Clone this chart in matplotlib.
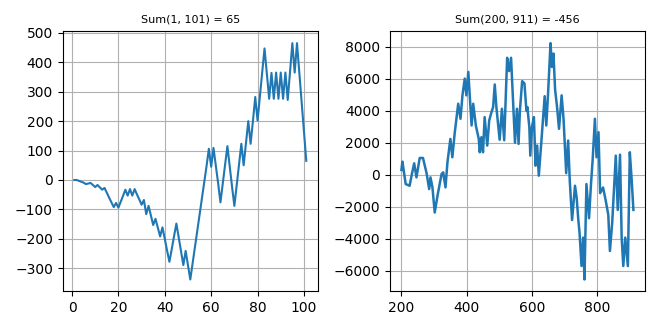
import numpy as np
import matplotlib
matplotlib.use('Agg')
import matplotlib.pyplot as plt

# --- left panel: running sum for n = 1..101 ---
left_n = np.arange(1, 102)
left_sum = [
    0, 0, -3, -6, -9, -14, -12, -10, -17, -24,
    -17, -25, -33, -27, -43, -60, -76, -92, -78, -94,
    -74, -54, -33, -53, -31, -53, -31, -49, -66, -84,
    -68, -116, -88, -120, -153, -132, -162, -192, -161, -200,
    -240, -278, -235, -191, -148, -195, -242, -289, -241, -290,
    -338, -283, -228, -173, -118, -63, -8, 47, 106, 45,
    109, 49, -11, -76, -12, 52, 115, 46, -23, -88,
    -18, 52, 123, 50, 125, 200, 123, 200, 282, 202,
    284, 366, 447, 362, 276, 364, 276, 365, 276, 365,
    276, 365, 272, 368, 465, 365, 465, 365, 265, 165,
    65,
]
left_title = 'Sum(1, 101) = 65'

# --- right panel: running sum for n = 200..911 (vertices) ---
right_n = [
    200, 203, 213, 225, 232, 239, 246, 256, 266, 277,
    285, 289, 295, 302, 311, 323, 328, 335, 341, 350,
    356, 363, 374, 381, 387, 394, 399, 405, 409, 415,
    420, 428, 437, 440, 445, 450, 455, 463, 469, 476,
    481, 486, 491, 501, 508, 515, 524, 530, 536, 548,
    554, 559, 563, 570, 577, 583, 586, 592, 595, 600,
    606, 611, 616, 621, 629, 639, 644, 649, 657, 661,
    666, 671, 677, 683, 691, 697, 705, 711, 716, 723,
    732, 737, 742, 746, 752, 757, 761, 767, 775, 781,
    786, 793, 798, 804, 809, 818, 826, 834, 839, 846,
    851, 857, 863, 870, 875, 880, 886, 894, 900, 906,
    911,
]
right_sum = [
    300, 814, -586, -691, 41, 710, -168, 1044, 1044, 100,
    -900, -168, -795, -2362, -1260, 41, 145, -795, 772, 2235,
    1086, 2549, 4430, 3490, 4953, 5998, 4953, 6416, 5057, 3072,
    4430, 3072, 2235, 1400, 2340, 1400, 3594, 1818, 3385, 3908,
    4221, 5632, 4221, 2180, 4117, 2150, 7300, 6470, 7300, 2000,
    4117, 1922, 3967, 5840, 5700, 4012, 4221, 2967, 1190, 2967,
    3594, 564, 1818, -64, 2100, 4900, 3072, 4900, 8213, 6729,
    7565, 5300, 4221, 2863, 4953, 3440, 93, 2131, -400, -2830,
    -690, -1422, -2780, -3650, -5700, -3930, -6543, -586, -2720, -586,
    900, 3490, 1086, 2654, -1150, -800, -1600, -2500, -4766, -3000,
    -1100, 1190, -2200, 1250, -3930, -5706, -3930, -5706, 1400, -430,
    -2200,
]
right_title = 'Sum(200, 911) = -456'

fig, (ax1, ax2) = plt.subplots(1, 2, figsize=(6.6, 3.3), dpi=100)

ax1.plot(left_n, left_sum, color='C0', lw=1.5)
ax1.set_title(left_title, fontsize=8)
ax1.grid(True)

ax2.plot(right_n, right_sum, color='C0', lw=1.8)
ax2.set_title(right_title, fontsize=8)
ax2.grid(True)

plt.tight_layout()
plt.savefig('out.png')
